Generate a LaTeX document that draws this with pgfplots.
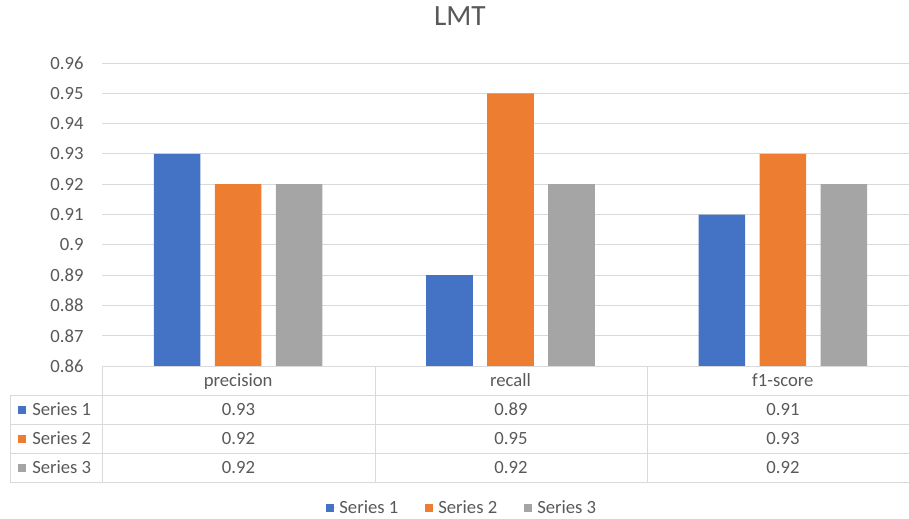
\documentclass[border=0pt]{standalone}
\usepackage{pgfplots}
\usepackage{pgfplotstable}
\pgfplotsset{compat=1.18}
\usepackage{fontspec}
\setmainfont{Carlito}

\definecolor{s1}{HTML}{4472C4}
\definecolor{s2}{HTML}{ED7D31}
\definecolor{s3}{HTML}{A5A5A5}
\definecolor{txt}{HTML}{595959}
\definecolor{gridc}{HTML}{D9D9D9}

% scores per metric (rows: precision, recall, f1-score)
\pgfplotstableread{
x s1 s2 s3
0 0.93 0.92 0.92
1 0.89 0.95 0.92
2 0.91 0.93 0.92
}\scores

\newcommand{\cell}[2]{\pgfplotstablegetelem{#1}{#2}\of\scores\pgfplotsretval}

\begin{document}
\begin{tikzpicture}
\begin{axis}[
  at={(76.5pt,-274.5pt)}, anchor=south west,
  scale only axis, width=612.75pt, height=227.25pt,
  xmin=-0.5, xmax=2.5, ymin=0.86, ymax=0.96,
  ybar,
  axis line style={draw=none},
  major tick length=0pt,
  ymajorgrids, grid style={gridc, line width=0.75pt},
  ytick={0.86,0.87,0.88,0.89,0.9,0.91,0.92,0.93,0.94,0.95,0.96},
  /pgf/number format/assume math mode=true,
  yticklabel style={anchor=east, xshift=-10.3pt, text=txt, font=\fontsize{14}{16}\selectfont},
  xtick={0,1,2}, xticklabels={precision,recall,f1-score},
  xticklabel style={anchor=base, yshift=-15pt, text=txt, font=\fontsize{14}{16}\selectfont},
  title={LMT},
  title style={at={(0.438,1)}, anchor=base, yshift=22pt, text=txt, font=\fontsize{22}{24}\selectfont},
  legend columns=3,
  legend style={draw=none, fill=none, at={(0.4412,-0.4686)}, anchor=center,
    text=txt, font=\fontsize{14}{16}\selectfont,
    /tikz/every even column/.append style={column sep=18pt}},
  legend image code/.code={\fill[#1] (0pt,-3pt) rectangle (6pt,3pt); \path (0pt,0pt) -- (8pt,0pt);},
  clip=false,
]
\addplot[fill=s1, draw=none, bar width=34.9pt, bar shift=-45.75pt] table[x=x,y=s1]{\scores};
\addplot[fill=s2, draw=none, bar width=34.9pt, bar shift=0pt] table[x=x,y=s2]{\scores};
\addplot[fill=s3, draw=none, bar width=34.9pt, bar shift=45.75pt] table[x=x,y=s3]{\scores};
\legend{Series 1, Series 2, Series 3}
\end{axis}

% data table under the plot
\begin{scope}[x=0.75pt,y=-0.75pt]
  \draw[gridc, line width=0.75pt] (102,366) -- (919,366);
  \foreach \yy in {395,424,453,482} \draw[gridc, line width=0.75pt] (10,\yy) -- (919,\yy);
  \draw[gridc, line width=0.75pt] (10,395) -- (10,482);
  \foreach \xx in {102,375,647} \draw[gridc, line width=0.75pt] (\xx,366) -- (\xx,482);
  \foreach \r/\yy/\c in {0/409.5/s1, 1/438.5/s2, 2/467.5/s3} {
    \fill[\c] (18,\yy-3.8) rectangle (26,\yy+4.2);
    \node[anchor=west, text=txt, font=\fontsize{14}{16}\selectfont, inner sep=0pt] at (32,\yy) {Series \the\numexpr\r+1\relax};
  }
  \foreach \col/\xx in {0/238.5, 1/511, 2/783} {
    \foreach \s/\yy in {s1/409.5, s2/438.5, s3/467.5} {
      \node[text=txt, font=\fontsize{14}{16}\selectfont, inner sep=0pt] at (\xx,\yy) {\cell{\col}{\s}};
    }
  }
  % the chart area ends at the right edge of the page
  \pgfresetboundingbox
  \useasboundingbox (0,0) rectangle (909,518);
\end{scope}
\end{tikzpicture}
\end{document}
